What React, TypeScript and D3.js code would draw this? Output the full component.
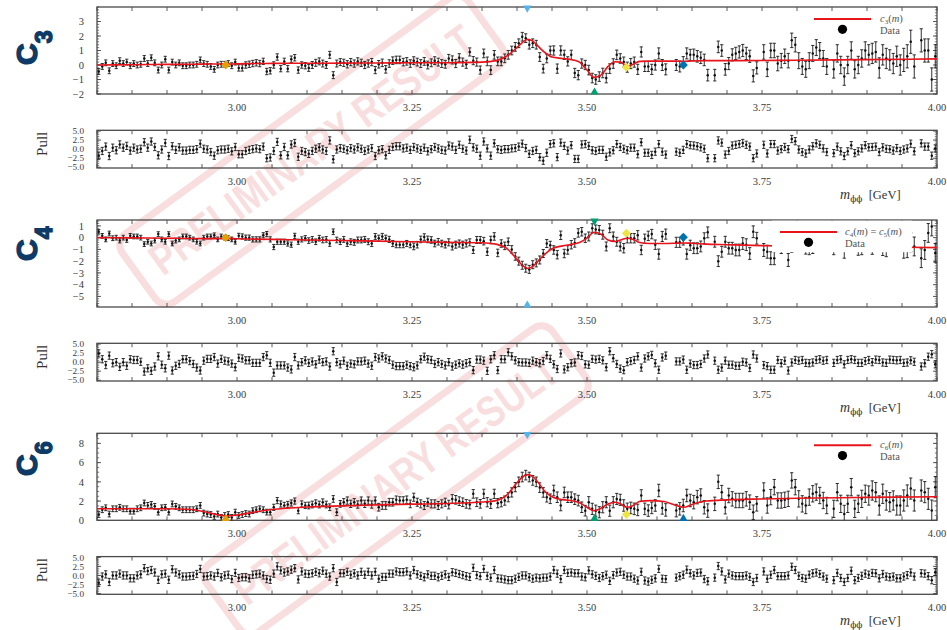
import React from 'react';
import * as d3 from 'd3';

// m_phiphi binning (GeV)
const M_LOW = 2.8;
const M_HIGH = 4.0;
const N_BINS = 240;

// ---- c3 ----
const c3Values = [
  -0.45, -0.1, 0.15, -0.4, 0.1, -0.05, 0.3, 0.1, 0.2, -0.05,
  0.1, 0.0, 0.05, 0.45, 0.1, 0.5, 0.15, -0.35, 0.0, 0.4,
  -0.35, 0.2, 0.0, 0.15, -0.05, -0.05, 0.0, 0.0, 0.05, 0.35,
  0.1, 0.05, -0.1, -0.3, 0.0, 0.05, 0.05, 0.1, -0.05, 0.2,
  -0.2, -0.2, 0.0, 0.05, 0.1, 0.15, 0.1, 0.25, -0.45, -0.4,
  0.0, 0.55, -0.25, 0.25, -0.25, 0.4, 0.5, -0.35, 0.0, -0.05,
  -0.2, 0.0, 0.15, 0.25, 0.1, 0.0, 0.7, -0.7, 0.1, 0.2,
  0.15, 0.05, 0.2, 0.1, 0.25, 0.15, 0.0, 0.1, 0.2, -0.35,
  0.05, 0.15, -0.3, 0.1, 0.3, 0.35, 0.35, 0.2, 0.25, 0.1,
  0.3, 0.2, 0.1, 0.25, 0.0, 0.15, 0.3, 0.2, 0.1, 0.05,
  0.45, 0.35, 0.1, 0.5, 0.2, 0.05, 0.9, 0.3, 0.2, -0.35,
  0.8, 0.25, -0.35, 0.7, 0.25, 0.25, 0.46, 0.7, 1.0, 1.25,
  1.5, 1.95, 1.85, 1.4, 1.5, 1.4, 0.55, -0.25, 0.45, 1.0,
  1.0, -0.25, 1.0, 0.7, 0.25, 0.7, -0.55, -0.7, 0.1, 0.0,
  -0.35, -0.9, -1.0, -0.8, -0.55, -0.9, -0.25, 0.1, 0.7, 0.45,
  0.2, -0.15, 0.1, 0.2, -0.3, 0.9, -0.1, -0.1, -0.3, 0.0,
  0.8, 0.0, -0.3, null, null, 0.0, -0.1, 0.2, 0.8, 0.7,
  0.7, 0.6, 0.5, 0.35, -0.7, null, -0.7, 1.25, 1.0, -0.3,
  0.1, 0.7, 0.8, 0.9, 1.0, 0.8, 0.6, -0.75, -0.2, null,
  0.9, -0.3, 1.0, 1.0, 0.1, 0.3, 0.6, 0.3, 1.7, 1.4,
  0.3, -0.1, -0.3, 0.3, 0.8, 1.2, 1.0, 0.45, -0.1, null,
  -0.3, 0.8, 0.0, -0.8, 0.0, 1.0, -0.3, 0.0, 0.45, 1.0,
  0.7, 0.8, 0.9, -0.2, 0.7, 0.45, 0.35, 0.1, 0.6, 0.0,
  0.35, 0.6, 1.6, -0.1, null, 1.7, 1.0, 1.0, -1.0, 0.6,
];
// one error per 0.05 GeV (10 bins)
const c3ErrBySeg = [0.2, 0.2, 0.2, 0.2, 0.22, 0.22, 0.24, 0.25, 0.26, 0.27, 0.28, 0.3,
  0.3, 0.32, 0.33, 0.35, 0.38, 0.4, 0.42, 0.5, 0.55, 0.6, 0.7, 0.8];
const c3Pulls = [
  -1.8, -0.5, 0.7, -1.9, 0.4, -0.3, 1.3, 0.4, 0.9, -0.4,
  0.4, -0.1, 0.1, 1.9, 0.4, 2.1, 0.6, -1.7, -0.1, 1.7,
  -1.9, 0.8, -0.2, 0.5, -0.4, -0.4, -0.2, -0.2, 0.0, 1.5,
  0.1, -0.1, -0.8, -1.8, -0.3, -0.1, -0.1, 0.1, -0.6, 0.6,
  -1.4, -1.4, -0.5, -0.2, 0.0, 0.2, 0.0, 0.7, -2.5, -2.3,
  -0.5, 2.0, -1.7, 0.6, -1.7, 1.3, 1.7, -2.1, -0.5, -0.8,
  -1.3, -0.5, 0.1, 0.5, -0.1, -0.5, 2.4, -2.8, -0.1, 0.3,
  0.1, -0.3, 0.3, -0.1, 0.5, 0.1, -0.5, -0.1, 0.3, -1.9,
  -0.3, 0.0, -1.7, -0.2, 0.6, 0.8, 0.8, 0.2, 0.4, -0.2,
  0.6, 0.2, -0.2, 0.4, -0.6, 0.0, 0.6, 0.2, -0.2, -0.4,
  1.0, 0.7, -0.2, 1.2, 0.1, -0.4, 2.6, 0.5, 0.1, -1.8,
  2.1, 0.2, -1.8, 1.6, 0.0, -0.2, 0.0, 0.0, 0.2, 0.3,
  0.7, 1.5, 0.3, -1.3, -0.5, -0.2, -2.2, -3.2, -1.0, 1.4,
  1.6, -2.2, 1.8, 0.9, -0.4, 1.1, -2.7, -2.7, 1.3, 1.4,
  0.9, -0.3, -0.5, -0.2, -0.2, -2.1, -0.9, -0.3, 1.4, 0.6,
  0.1, -0.3, 0.4, 0.4, -1.4, 1.9, -1.0, -1.0, -1.6, -0.7,
  1.4, -0.7, -1.5, null, null, -0.7, -1.0, -0.2, 1.4, 1.1,
  1.0, 0.8, 0.5, 0.1, -2.5, null, -2.5, 2.4, 1.8, -1.5,
  -0.5, 1.0, 1.2, 1.4, 1.7, 1.2, 0.7, -2.5, -1.2, null,
  1.2, -1.2, 1.4, 1.4, -0.4, 0.0, 0.6, 0.0, 2.8, 2.2,
  -0.1, -0.8, -1.2, -0.1, 0.8, 1.6, 1.2, 0.2, -0.8, null,
  -1.1, 0.7, -0.6, -1.9, -0.6, 1.1, -1.1, -0.6, 0.2, 1.1,
  0.5, 0.6, 0.7, -0.8, 0.5, 0.1, 0.0, -0.4, 0.3, -0.5,
  -0.1, 0.2, 1.5, -0.6, null, 1.6, 0.7, 0.7, -1.8, 0.2,
];

// ---- c4 ----
const c4Values = [
  0.5, 0.15, -0.15, 0.35, -0.05, 0.0, -0.25, 0.0, -0.2, 0.15,
  0.1, 0.1, 0.0, -0.55, -0.35, -0.5, -0.25, 0.3, -0.15, -0.35,
  0.3, -0.5, -0.25, -0.15, 0.1, 0.1, 0.0, -0.15, -0.35, -0.5,
  0.0, 0.1, 0.1, 0.2, -0.15, 0.1, 0.0, -0.05, -0.15, -0.35,
  0.15, 0.1, 0.0, 0.0, -0.15, -0.15, -0.15, 0.2, 0.3, -0.15,
  -0.8, -0.35, -0.35, -0.35, -0.5, -0.6, 0.15, -0.35, -0.15, -0.05,
  -0.25, -0.15, -0.35, -0.05, -0.2, -0.15, -0.5, 0.5, -0.2, -0.35,
  -0.15, -0.5, -0.35, -0.4, -0.2, -0.2, -0.15, -0.35, -0.5, 0.1,
  -0.05, 0.1, -0.05, -0.15, -0.5, -0.6, -0.6, -0.6, -0.5, -0.6,
  -0.75, -0.6, -0.15, 0.05, -0.15, -0.2, -0.5, -0.35, -0.5, -0.6,
  -0.4, -0.75, -0.6, -0.5, -0.6, -0.5, -0.4, -1.05, -0.2, -0.2,
  -0.3, -1.2, -0.2, 0.1, -1.3, -0.5, -0.7, -0.35, -1.0, -1.6,
  -2.0, -2.35, -2.6, -2.7, -2.3, -2.15, -1.9, -1.35, -0.5, -0.65,
  -1.05, -1.45, 0.2, -1.35, -1.05, -0.6, -0.45, 0.4, 0.5, -0.05,
  0.1, 0.8, 0.7, 0.65, 0.25, -0.75, 0.8, 0.1, -0.35, -0.75,
  -0.9, -0.05, -0.05, -0.05, 0.2, -1.05, -0.1, 0.15, 0.3, -0.6,
  -1.4, 0.1, 0.3, null, null, -0.4, -0.4, -0.2, -1.4, -0.65,
  -0.9, -0.9, -0.75, -0.05, 0.45, null, -0.35, -2.0, -1.2, -0.35,
  -0.9, -0.9, -1.05, -1.05, -0.5, -0.6, -1.35, 0.5, -0.05, null,
  -1.05, -1.2, -1.75, -1.75, -0.3, -0.8, -0.4, -1.9, -0.7, -0.3,
  -0.4, -0.3, -0.8, -0.85, -0.75, -0.3, -0.2, -0.4, -0.3, null,
  -0.8, -0.3, -0.2, -1.1, -0.3, -0.2, -0.3, -0.85, -0.8, -0.5,
  -0.3, -0.7, -0.2, -0.3, -0.8, -0.9, -0.2, -0.3, -0.4, -0.3,
  -0.95, -0.9, -0.4, -0.75, null, -1.75, -1.05, 0.4, 0.95, -1.3,
];
const c4ErrBySeg = [0.2, 0.2, 0.2, 0.2, 0.22, 0.22, 0.24, 0.25, 0.26, 0.28, 0.3, 0.32,
  0.34, 0.36, 0.38, 0.4, 0.43, 0.46, 0.5, 0.55, 0.6, 0.65, 0.72, 0.8];
const c4Pulls = [
  2.4, 0.8, -0.8, 1.8, -0.3, 0.0, -1.3, 0.0, -1.0, 0.8,
  0.6, 0.6, 0.1, -2.6, -1.7, -2.4, -1.2, 1.6, -0.7, -1.7,
  1.8, -2.3, -1.0, -0.5, 0.8, 0.8, 0.3, -0.5, -1.5, -2.3,
  0.4, 0.9, 0.9, 1.4, -0.4, 0.9, 0.4, 0.2, -0.4, -1.4,
  1.2, 1.0, 0.5, 0.5, -0.2, -0.2, -0.2, 1.4, 1.9, -0.2,
  -2.9, -0.9, -0.9, -0.9, -1.5, -2.0, 1.4, -0.9, 0.0, 0.5,
  -0.2, 0.2, -0.6, 0.7, 0.0, 0.2, -1.2, 3.0, 0.0, -0.6,
  0.4, -1.0, -0.4, -0.6, 0.2, 0.2, 0.4, -0.4, -1.0, 1.4,
  1.0, 1.6, 1.0, 0.6, -0.7, -1.1, -1.1, -1.1, -0.7, -1.1,
  -1.4, -0.9, 0.8, 1.5, 0.8, 0.6, -0.5, 0.0, -0.5, -0.9,
  0.0, -1.2, -0.7, -0.3, -0.7, -0.3, 0.0, -2.2, 0.7, 0.7,
  0.4, -2.4, 0.8, 1.9, -2.2, 0.8, 0.8, 2.7, 1.6, 0.5,
  0.0, -0.1, -0.1, -0.2, 0.4, 0.0, -0.3, 0.3, 1.9, 0.9,
  -0.6, -1.9, 2.4, -2.0, -1.4, -0.3, -0.1, 1.9, 1.7, -0.6,
  -0.7, 0.9, 0.7, 0.9, 0.5, -1.4, 3.0, 1.1, -0.5, -1.8,
  -2.2, 0.0, 0.3, 0.6, 1.6, -1.5, 1.0, 1.6, 2.0, -0.3,
  -2.1, 1.3, 1.8, null, null, 0.2, 0.2, 0.7, -2.1, -0.4,
  -0.8, -0.8, -0.5, 1.0, 2.1, null, 0.4, -2.1, -1.5, 0.4,
  -0.7, -0.7, -1.0, -1.0, 0.1, -0.1, -1.6, 2.1, 1.0, null,
  -0.8, -1.1, -2.1, -2.1, 0.6, -0.3, 0.4, -2.3, -0.1, 0.6,
  0.4, 0.6, -0.2, -0.3, -0.1, 0.6, 0.8, 0.4, 0.6, null,
  -0.2, 0.6, 0.8, -0.6, 0.6, 0.8, 0.6, -0.2, -0.2, 0.3,
  0.6, 0.0, 0.7, 0.6, -0.1, -0.2, 0.7, 0.6, 0.5, 0.6,
  -0.2, -0.1, 0.5, 0.1, null, -1.2, -0.3, 1.5, 2.2, -0.6,
];

// ---- c6 ----
const c6Values = [
  0.6, 1.1, 1.3, 0.65, 1.2, 1.2, 1.35, 1.2, 1.2, 0.95,
  0.95, 1.2, 1.3, 1.8, 1.55, 1.65, 1.45, 0.85, 1.3, 1.35,
  0.85, 1.7, 1.45, 1.3, 1.1, 1.1, 1.1, 1.1, 1.2, 1.55,
  0.75, 0.65, 0.6, 0.4, 0.65, 0.3, 0.5, 0.6, 0.3, 0.85,
  0.5, 0.6, 0.7, 0.65, 1.0, 1.1, 1.2, 1.1, 0.85, 0.85,
  1.35, 2.05, 1.7, 1.55, 1.65, 1.8, 2.0, 1.0, 1.7, 1.55,
  1.54, 1.64, 1.78, 1.64, 1.88, 1.64, 1.36, 2.22, 0.84, 1.71,
  1.88, 2.05, 1.71, 1.88, 1.64, 2.05, 1.71, 2.05, 1.64, 2.05,
  1.36, 1.54, 1.54, 1.88, 1.88, 2.13, 2.05, 2.05, 2.13, 1.71,
  2.4, 1.88, 1.71, 1.54, 1.88, 1.71, 1.71, 1.54, 1.71, 1.88,
  1.64, 2.22, 2.13, 1.99, 1.88, 1.71, 1.64, 2.75, 1.88, 1.71,
  2.75, 1.88, 1.71, 2.75, 1.78, 1.88, 2.05, 2.4, 2.9, 3.45,
  4.0, 4.5, 4.7, 4.5, 4.15, 4.0, 3.4, 2.9, 2.4, 2.24,
  3.1, 2.4, 1.54, 2.9, 2.4, 2.4, 2.2, 2.05, 1.36, 1.0,
  1.88, 1.19, 1.0, 0.84, 1.36, 1.88, 1.0, 1.88, 2.22, 2.13,
  1.54, 1.19, 1.29, 1.19, 1.08, 2.58, 1.19, 1.01, 1.29, 1.54,
  3.1, 1.29, 1.08, null, null, 1.01, 1.19, 1.54, 2.58, 2.06,
  1.89, 2.41, 2.58, 1.36, 1.01, null, 1.71, 4.0, 2.93, 1.36,
  2.58, 2.23, 2.06, 2.06, 2.06, 2.23, 1.89, 0.84, 1.71, null,
  3.1, 1.54, 2.41, 3.45, 2.06, 2.06, 2.13, 2.23, 4.15, 3.45,
  2.23, 1.71, 1.54, 2.41, 2.76, 2.93, 2.58, 2.06, 1.54, null,
  1.19, 2.93, 1.71, 0.66, 1.71, 3.45, 1.19, 1.71, 2.23, 2.76,
  2.58, 3.1, 2.93, 1.54, 2.76, 2.06, 1.89, 2.06, 1.54, 1.54,
  2.06, 2.58, 3.3, 2.06, null, 3.1, 2.93, 2.23, 1.01, 3.45,
];
const c6ErrBySeg = [0.3, 0.3, 0.3, 0.3, 0.3, 0.32, 0.35, 0.38, 0.4, 0.42, 0.45, 0.48,
  0.5, 0.55, 0.58, 0.6, 0.65, 0.7, 0.75, 0.8, 0.85, 0.9, 1.0, 1.1];
const c6Pulls = [
  -2.0, -0.3, 0.3, -1.8, 0.0, 0.0, 0.5, 0.0, 0.0, -0.8,
  -0.8, 0.0, 0.3, 2.0, 1.2, 1.5, 0.8, -1.2, 0.3, 0.5,
  -1.2, 1.7, 0.8, 0.3, -0.3, -0.3, -0.2, -0.1, 0.4, 1.8,
  -0.3, -0.2, 0.0, -0.3, 0.7, -0.5, 0.0, 0.2, -1.0, 0.7,
  -0.7, -0.5, -0.5, -0.8, 0.2, 0.3, 0.5, 0.0, -1.0, -1.2,
  0.5, 2.5, 1.4, 0.8, 1.1, 1.6, 2.0, -1.1, 1.1, 0.5,
  0.4, 0.6, 1.0, 0.6, 1.3, 0.5, -0.3, 2.0, -1.8, 0.6,
  0.6, 1.0, 0.2, 0.6, 0.0, 1.0, 0.2, 1.0, 0.0, 1.0,
  -0.9, -0.4, -0.4, 0.5, 0.5, 1.1, 0.9, 0.9, 1.1, 0.0,
  1.5, 0.3, -0.1, -0.5, 0.3, -0.1, -0.1, -0.5, -0.1, 0.3,
  -0.4, 0.9, 0.7, 0.4, 0.1, -0.2, -0.4, 2.1, 0.1, -0.2,
  1.8, -0.1, -0.6, 1.5, -0.8, -0.9, -1.1, -1.3, -1.3, -0.9,
  -0.4, 0.0, 0.0, -0.5, -0.9, -0.6, -0.8, -0.6, -0.6, -0.3,
  1.5, 0.5, -1.0, 1.5, 0.7, 0.8, 0.6, 0.6, -0.3, -0.5,
  1.4, 0.3, -0.1, -0.7, -0.2, 0.2, -1.5, 0.1, 0.8, 1.0,
  0.2, -0.3, -0.3, -0.9, -1.4, 1.0, -1.4, -1.7, -1.2, -0.8,
  1.8, -0.9, -1.0, null, null, -0.6, -0.2, 0.2, 1.6, 0.6,
  0.0, 0.7, 0.8, -1.0, -1.6, null, -0.6, 2.6, 1.1, -1.1,
  0.5, 0.0, -0.2, -0.2, -0.2, 0.0, -0.4, -1.8, -0.7, null,
  1.1, -0.9, 0.2, 1.5, -0.2, -0.2, -0.2, 0.0, 2.4, 1.5,
  -0.1, -0.7, -0.9, 0.2, 0.6, 0.8, 0.4, -0.3, -0.9, null,
  -1.3, 0.7, -0.7, -1.8, -0.7, 1.3, -1.3, -0.7, -0.1, 0.5,
  0.2, 0.7, 0.6, -0.8, 0.4, -0.3, -0.5, -0.3, -0.8, -0.8,
  -0.3, 0.1, 0.8, -0.3, null, 0.6, 0.5, -0.2, -1.3, 0.9,
];

// fitted model, sampled at these masses
const fitMass = [2.80, 2.85, 2.90, 2.93, 2.95, 2.97, 2.985, 3.00, 3.02, 3.05, 3.10, 3.15,
  3.20, 3.25, 3.30, 3.35, 3.37, 3.385, 3.40, 3.4075, 3.415, 3.4225, 3.43, 3.44, 3.45,
  3.465, 3.48, 3.49, 3.50, 3.51, 3.52, 3.53, 3.54, 3.548, 3.557, 3.566, 3.575, 3.59,
  3.61, 3.625, 3.638, 3.65, 3.67, 3.70, 3.75, 3.80, 3.90, 4.00];
const c3Fit = [0.0, 0.02, 0.04, 0.05, 0.06, 0.07, 0.06, 0.08, 0.1, 0.11, 0.12, 0.13,
  0.14, 0.15, 0.16, 0.2, 0.3, 0.6, 1.2, 1.55, 1.78, 1.65, 1.3, 0.85, 0.55,
  0.45, 0.35, 0.18, -0.35, -0.85, -0.7, -0.1, 0.22, 0.2, -0.1, 0.05, 0.25, 0.27,
  0.27, 0.27, 0.25, 0.28, 0.3, 0.3, 0.31, 0.33, 0.37, 0.42];
const c4Fit = [0.0, -0.02, -0.05, -0.07, -0.08, -0.08, -0.07, -0.1, -0.12, -0.15, -0.2, -0.25,
  -0.3, -0.35, -0.4, -0.43, -0.55, -0.9, -1.85, -2.35, -2.62, -2.45, -2.0, -1.4, -0.95,
  -0.7, -0.55, -0.4, -0.05, 0.46, 0.3, -0.2, -0.33, -0.2, -0.05, -0.15, -0.42, -0.5,
  -0.5, -0.48, -0.45, -0.48, -0.55, -0.6, -0.68, -0.72, -0.78, -0.85];
const c6Fit = [1.2, 1.2, 1.2, 1.15, 0.95, 0.6, 0.45, 0.55, 0.8, 1.12, 1.38, 1.5,
  1.6, 1.68, 1.75, 1.9, 2.05, 2.6, 3.9, 4.5, 4.75, 4.55, 3.95, 3.0, 2.45,
  2.15, 2.0, 1.8, 1.35, 1.0, 1.25, 1.7, 1.88, 1.7, 1.35, 1.55, 1.95, 2.05,
  1.95, 1.6, 1.35, 1.65, 2.0, 2.12, 2.22, 2.3, 2.38, 2.45];

// charmonium markers: eta_c, chi_c0, chi_c1, chi_c2, eta_c(2S)
const resonanceMass = [2.9839, 3.4147, 3.5107, 3.5562, 3.6377];
const resonanceColor = ['#E69F00', '#56B4E9', '#009E73', '#F0E442', '#0072B2'];
// values outside the y range are drawn as arrows on the frame
const c3Markers = [0.0, 5, -3, -0.15, 0.0];
const c4Markers = [0.0, -7, 2.5, 0.37, 0.03];
const c6Markers = [-1, 10, -1, 0.6, -1];

const xTicks = [3.0, 3.25, 3.5, 3.75, 4.0];
const c3YTicks = [-2, -1, 0, 1, 2, 3];
const c4YTicks = [-5, -4, -3, -2, -1, 0, 1];
const c6YTicks = [0, 2, 4, 6, 8];
const pullTicks = [-5, -2.5, 0, 2.5, 5];

// ---- layout ----
const W = 947;
const H = 630;
const PLOT_LEFT = 97;
const PLOT_RIGHT = 937;
const MAIN_H = 87;
const PULL_GAP = 36.3;
const PULL_H = 37.7;
const PULL_DOMAIN = [-5.2, 5.2];

const SERIF = '"Liberation Serif", "DejaVu Serif", serif';
const SANS = '"Liberation Sans", Arial, sans-serif';
const AXIS = '#4a4a4a';
const TICK_TEXT = '#3a3a3a';
const FIT_RED = '#e8141b';

const x = d3.scaleLinear().domain([M_LOW, M_HIGH]).range([PLOT_LEFT, PLOT_RIGHT]);
const binCenter = (i: number) => M_LOW + (i + 0.5) * (M_HIGH - M_LOW) / N_BINS;
const fmtX = d3.format('.2f');
const fmtPull = d3.format('.1f');
const fmtY = d3.format('d');

const panels = [
  {
    id: 'c3', sub: '3', top: 7, values: c3Values, errs: c3ErrBySeg, pulls: c3Pulls,
    fit: c3Fit, markers: c3Markers, yDomain: [-2, 4], yTicks: c3YTicks, yMinor: 30,
    labelY: 65, legendX: 814, legendSubs: ['3'], legendBox: false,
  },
  {
    id: 'c4', sub: '4', top: 220, values: c4Values, errs: c4ErrBySeg, pulls: c4Pulls,
    fit: c4Fit, markers: c4Markers, yDomain: [-5.9, 1.5], yTicks: c4YTicks, yMinor: 37,
    labelY: 261, legendX: 780, legendSubs: ['4', '5'], legendBox: true,
  },
  {
    id: 'c6', sub: '6', top: 433.3, values: c6Values, errs: c6ErrBySeg, pulls: c6Pulls,
    fit: c6Fit, markers: c6Markers, yDomain: [0, 9.05], yTicks: c6YTicks, yMinor: 18,
    labelY: 476, legendX: 814, legendSubs: ['6'], legendBox: false,
  },
];

function Frame({ y, top, bottom, majors, minors, fmt, labelSize }: any) {
  const xMinor = x.ticks(24);
  return (
    <g>
      {xMinor.map((t: number) => (
        <g key={'xt' + t} stroke={AXIS} strokeWidth={0.9}>
          <line x1={x(t)} x2={x(t)} y1={bottom} y2={bottom - 4} />
          <line x1={x(t)} x2={x(t)} y1={top} y2={top + 4} />
        </g>
      ))}
      {minors.map((t: number) => (
        <g key={'ym' + t} stroke={AXIS} strokeWidth={0.7}>
          <line x1={PLOT_LEFT} x2={PLOT_LEFT + 2.2} y1={y(t)} y2={y(t)} />
          <line x1={PLOT_RIGHT} x2={PLOT_RIGHT - 2.2} y1={y(t)} y2={y(t)} />
        </g>
      ))}
      {majors.map((t: number) => (
        <g key={'yM' + t}>
          <line x1={PLOT_LEFT} x2={PLOT_LEFT + 4} y1={y(t)} y2={y(t)} stroke={AXIS} strokeWidth={0.9} />
          <line x1={PLOT_RIGHT} x2={PLOT_RIGHT - 4} y1={y(t)} y2={y(t)} stroke={AXIS} strokeWidth={0.9} />
          <text x={84} y={y(t)} dy="0.35em" textAnchor="end" fontFamily={SERIF} fontSize={labelSize}
            fill={TICK_TEXT}>
            {fmt(t)}
          </text>
        </g>
      ))}
      <rect x={PLOT_LEFT} y={top} width={PLOT_RIGHT - PLOT_LEFT} height={bottom - top}
        fill="none" stroke={AXIS} strokeWidth={1.3} />
      {xTicks.map((t) => (
        <text key={'xl' + t} x={x(t)} y={bottom + 17} textAnchor="middle" fontFamily={SERIF}
          fontSize={10.5} fill={TICK_TEXT}>{fmtX(t)}</text>
      ))}
    </g>
  );
}

function Points({ values, errs, y, clip }: any) {
  return (
    <g clipPath={`url(#${clip})`} stroke="#1a1a1a" strokeWidth={0.9}>
      {values.map((v: number | null, i: number) => {
        if (v == null) return null;
        const e = typeof errs === 'number' ? errs : errs[Math.floor(i / 10)];
        const cx = x(binCenter(i));
        const y0 = y(v - e);
        const y1 = y(v + e);
        return (
          <g key={i}>
            <line x1={cx} x2={cx} y1={y0} y2={y1} />
            <line x1={cx - 1.6} x2={cx + 1.6} y1={y0} y2={y0} />
            <line x1={cx - 1.6} x2={cx + 1.6} y1={y1} y2={y1} />
            <circle cx={cx} cy={y(v)} r={1.25} fill="#111" stroke="none" />
          </g>
        );
      })}
    </g>
  );
}

function FnLabel({ x0, y0, subs }: any) {
  const parts: any[] = [];
  subs.forEach((s: string, k: number) => {
    if (k > 0) parts.push(<tspan key={'eq' + k}>{'\u00a0=\u00a0'}</tspan>);
    parts.push(<tspan key={'c' + k} fontStyle="italic">c</tspan>);
    parts.push(<tspan key={'s' + k} fontSize={7} dy={2}>{s}</tspan>);
    parts.push(<tspan key={'p' + k} dy={-2}>(</tspan>);
    parts.push(<tspan key={'m' + k} fontStyle="italic">m</tspan>);
    parts.push(<tspan key={'q' + k}>)</tspan>);
  });
  return (
    <text x={x0} y={y0} fontFamily={SERIF} fontSize={10.5} fill="#555">{parts}</text>
  );
}

const squarePath = d3.symbol().type(d3.symbolSquare).size(40)() as string;
const trianglePath = d3.symbol().type(d3.symbolTriangle).size(30)() as string;

function Panel({ p }: any) {
  const top = p.top;
  const bottom = top + MAIN_H;
  const pullTop = bottom + PULL_GAP;
  const pullBottom = pullTop + PULL_H;
  const y = d3.scaleLinear().domain(p.yDomain).range([bottom, top]);
  const yp = d3.scaleLinear().domain(PULL_DOMAIN).range([pullBottom, pullTop]);
  const fitLine = d3.line<number>()
    .x((_, k) => x(fitMass[k]))
    .y((v) => y(v))
    .curve(d3.curveMonotoneX);
  const clipMain = `clip-${p.id}-main`;
  const clipPull = `clip-${p.id}-pull`;
  const [lo, hi] = p.yDomain;
  const legendX = p.legendX;
  const legendTextX = legendX + (p.legendBox ? 65 : 66);

  return (
    <g>
      <defs>
        <clipPath id={clipMain}>
          <rect x={PLOT_LEFT} y={top} width={PLOT_RIGHT - PLOT_LEFT} height={MAIN_H} />
        </clipPath>
        <clipPath id={clipPull}>
          <rect x={PLOT_LEFT} y={pullTop} width={PLOT_RIGHT - PLOT_LEFT} height={PULL_H} />
        </clipPath>
      </defs>

      {/* big coefficient label */}
      <text transform={`translate(37,${p.labelY}) rotate(-90)`} fontFamily={SANS} fontWeight="bold"
        fontSize={30} fill="#0d3a66" stroke="#0d3a66" strokeWidth={1.4}>
        C<tspan dy={15} fontSize={23}>{p.sub}</tspan>
      </text>

      {/* main panel */}
      <Frame y={y} top={top} bottom={bottom} majors={p.yTicks} minors={y.ticks(p.yMinor)} fmt={fmtY}
        labelSize={10.5} />
      <Points values={p.values} errs={p.errs} y={y} clip={clipMain} />
      <path d={fitLine(p.fit) as string} fill="none" stroke={FIT_RED} strokeWidth={1.6}
        clipPath={`url(#${clipMain})`} />
      {p.markers.map((v: number, k: number) => {
        const mx = x(resonanceMass[k]);
        let t = `translate(${mx},${y(v)}) rotate(45)`;
        let d = squarePath;
        if (v > hi) { t = `translate(${mx},${top + 1}) rotate(180)`; d = trianglePath; }
        if (v < lo) { t = `translate(${mx},${bottom - 1.8})`; d = trianglePath; }
        return <path key={'mk' + k} d={d} transform={t} fill={resonanceColor[k]} />;
      })}

      {/* legend */}
      {p.legendBox && (
        <rect x={772} y={top + 0.7} width={140} height={31.5} fill="#fff" />
      )}
      <line x1={legendX} x2={legendX + 57} y1={top + 12} y2={top + 12} stroke={FIT_RED} strokeWidth={2} />
      <circle cx={legendX + 28.5} cy={top + 22.3} r={4.6} fill="#000" />
      <FnLabel x0={legendTextX} y0={top + 15} subs={p.legendSubs} />
      <text x={legendTextX} y={top + 26.5} fontFamily={SERIF} fontSize={10.5} fill="#555">Data</text>

      {/* pull panel */}
      <Frame y={yp} top={pullTop} bottom={pullBottom} majors={pullTicks} minors={yp.ticks(20)} fmt={fmtPull}
        labelSize={9.2} />
      <Points values={p.pulls} errs={1} y={yp} clip={clipPull} />
      <text transform={`translate(47,${(pullTop + pullBottom) / 2 - 5.3}) rotate(-90)`} textAnchor="middle"
        fontFamily={SERIF} fontSize={15} fill="#333">Pull</text>
      <text x={840} y={pullBottom + 30.5} fontFamily={SERIF} fill="#333">
        <tspan fontStyle="italic" fontSize={14}>m</tspan>
        <tspan fontSize={9} dy={3} fontFamily='"DejaVu Serif", serif'>ϕϕ</tspan>
        <tspan fontSize={12.5} dy={-3}>{'\u00a0\u00a0[GeV]'}</tspan>
      </text>
    </g>
  );
}

function Stamp({ cx, cy }: { cx: number; cy: number }) {
  return (
    <g transform={`translate(${cx},${cy}) rotate(-36)`} opacity={0.15}>
      <rect x={-214} y={-42} width={428} height={84} rx={14} fill="none" stroke="#d42a2a" strokeWidth={7} />
      <text x={0} y={15} textAnchor="middle" fontFamily={SANS} fontWeight="bold" fontSize={44}
        fill="#d42a2a" textLength={390} lengthAdjust="spacingAndGlyphs">PRELIMINARY RESULT</text>
    </g>
  );
}

export default function App() {
  return (
    <svg width={W} height={H} style={{ position: 'absolute', left: 0, top: 0, display: 'block' }}>
      <rect width={W} height={H} fill="#fff" />
      <Stamp cx={312} cy={150} />
      <Stamp cx={396} cy={480} />
      {panels.map((p) => <Panel key={p.id} p={p} />)}
    </svg>
  );
}
